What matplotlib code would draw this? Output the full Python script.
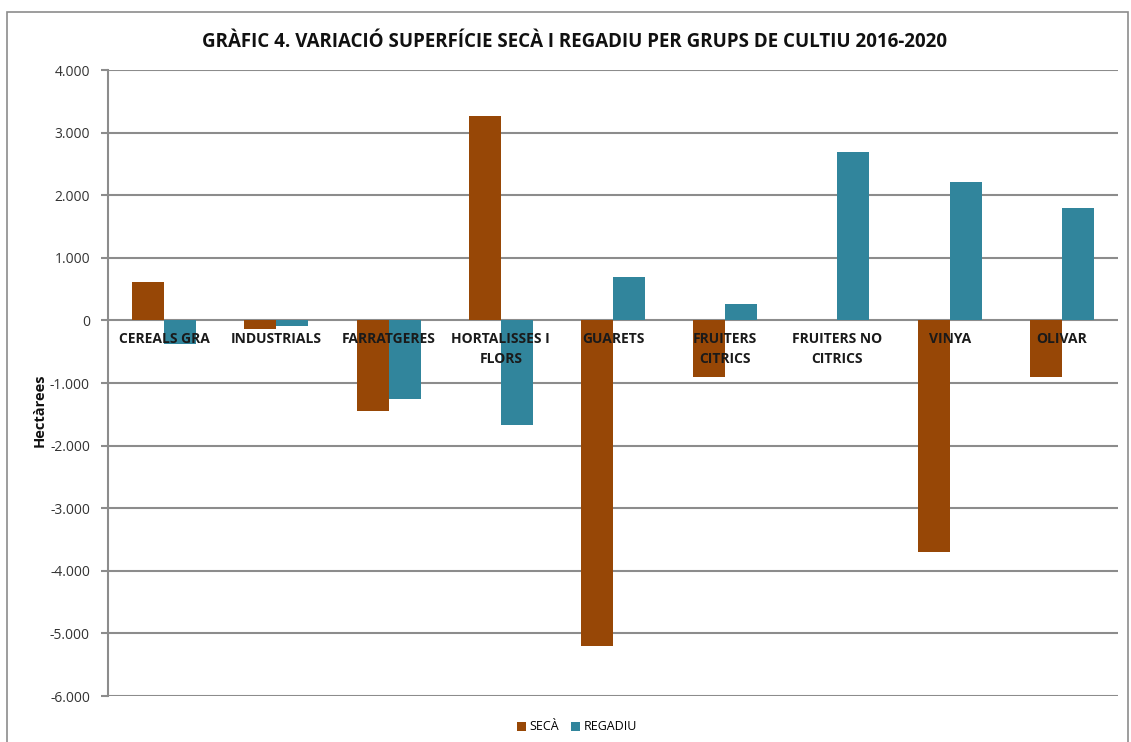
import matplotlib.pyplot as plt
import numpy as np
from matplotlib.patches import Rectangle
from matplotlib.ticker import FuncFormatter

categories = ["CEREALS GRA", "INDUSTRIALS", "FARRATGERES", "HORTALISSES I\nFLORS", "GUARETS",
              "FRUITERS\nCITRICS", "FRUITERS NO\nCITRICS", "VINYA", "OLIVAR"]
seca = [610, -140, -1440, 3265, -5205, -910, 0, -3705, -910]
regadiu = [-380, -85, -1250, -1670, 690, 260, 2690, 2215, 1800]
series_names = ["SECÀ", "REGADIU"]
yticks = [4000, 3000, 2000, 1000, 0, -1000, -2000, -3000, -4000, -5000, -6000]

c_seca = "#974706"
c_reg = "#31859C"
grid_c = "#8c8c8c"

plt.rcParams.update({"font.family": ["Open Sans", "DejaVu Sans"]})

fig = plt.figure(figsize=(11.31, 7.42), dpi=100)
fig.patches.append(Rectangle((7/1131, -0.01), 1121/1131, 1 - 12/742 + 0.01,
                             transform=fig.transFigure, fill=False,
                             edgecolor="#8c8c8c", linewidth=1.2))
ax = fig.add_axes([108/1131, 1 - 696/742, 1010/1131, 626/742])

x = np.arange(len(categories))
w = 0.285
ax.bar(x - w/2, seca, w, color=c_seca, linewidth=0, zorder=3, label=series_names[0])
ax.bar(x + w/2, regadiu, w, color=c_reg, linewidth=0, zorder=3, label=series_names[1])

ax.set_xlim(-0.5, len(categories) - 0.5)
ax.set_ylim(-6000, 4000)
ax.set_yticks(yticks)
ax.yaxis.set_major_formatter(FuncFormatter(lambda v, p: f"{int(v):,}".replace(",", ".")))
ax.grid(axis="y", color=grid_c, linewidth=1.5, zorder=1)
ax.set_xticks([])
for s in ["top", "right", "bottom"]:
    ax.spines[s].set_visible(False)
ax.spines["left"].set_color(grid_c)
ax.spines["left"].set_linewidth(1.5)
ax.tick_params(axis="y", length=5, color=grid_c, width=1.5, labelsize=10, pad=8, labelcolor="#333333")

for i, lab in enumerate(categories):
    ax.annotate(lab, (i, 0), xytext=(0, -12), textcoords="offset pixels",
                ha="center", va="top", fontsize=10, fontweight="bold",
                color="#1a1a1a", zorder=5, linespacing=1.5)

fig.text(40/1131, 1 - 410/742, "Hectàrees", rotation=90, ha="center", va="center",
         fontsize=10.5, fontweight="bold", color="#111111")

fig.text(575/1131, 1 - 42/742, "GRÀFIC 4. VARIACIÓ SUPERFÍCIE SECÀ I REGADIU PER GRUPS DE CULTIU 2016-2020",
         ha="center", va="center", fontsize=13.5, fontweight="bold", color="#111111")

leg = fig.legend(loc="center", bbox_to_anchor=(577/1131, 1 - 727/742), ncol=2, frameon=False,
                 fontsize=9, handlelength=0.7, handleheight=0.7, handletextpad=0.3, columnspacing=1.0)

fig.savefig("out.png", dpi=100)
